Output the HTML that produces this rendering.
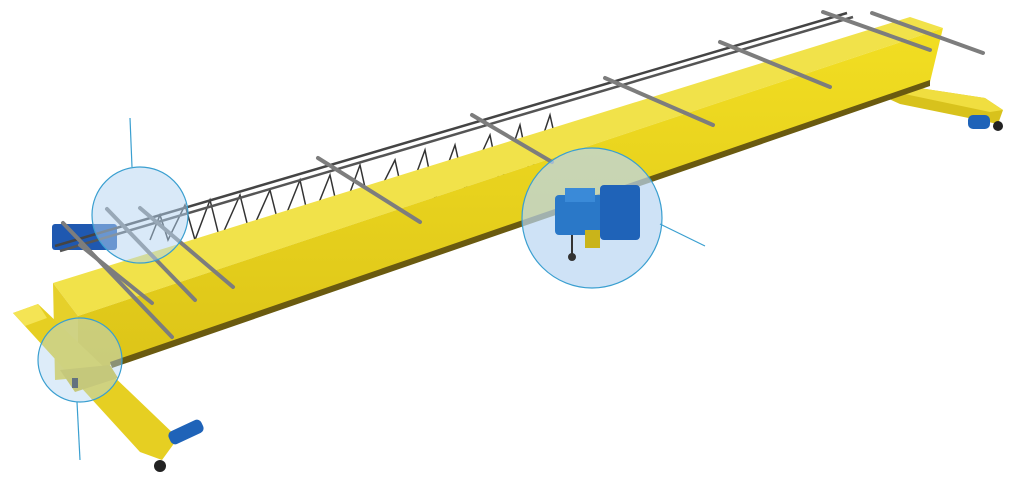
<!DOCTYPE html>
<html><head><style>html,body{margin:0;padding:0;background:#fff;width:1019px;height:479px;overflow:hidden}</style></head>
<body>
<svg width="1019" height="479" viewBox="0 0 1019 479" xmlns="http://www.w3.org/2000/svg">
<defs>
<linearGradient id="ff" x1="0" y1="0" x2="0" y2="1"><stop offset="0" stop-color="#f2de22"/><stop offset="1" stop-color="#dcc418"/></linearGradient>
</defs>
<!-- right end carriage -->
<polygon points="893,84 985,98 1003,110 998,124 900,104 880,95" fill="#d8c21c"/>
<polygon points="893,84 985,98 1003,110 990,112 895,92" fill="#f0de40"/>
<rect x="968" y="115" width="22" height="14" rx="5" fill="#1f63b8"/>
<circle cx="998" cy="126" r="5" fill="#222"/>
<!-- festoon -->
<polyline points="150,240 160,215 168,240 185,205 195,240 210,200 220,240 240,195 250,235 270,190 280,230 300,180 310,225 330,175 340,220 360,165 370,210 395,160 405,205 425,150 435,200 455,145 465,190 490,135 500,185 520,125 530,175 550,115 560,160" fill="none" stroke="#333" stroke-width="1.5"/>
<!-- girder top face -->
<polygon points="53,283 910,17 943,28 78,316" fill="#f1e24a"/>
<!-- front face -->
<polygon points="78,316 943,28 930,82 110,365 78,375" fill="url(#ff)"/>
<polygon points="110,362 930,80 930,86 112,368" fill="#6a5a10"/>
<!-- left end face -->
<polygon points="53,283 78,316 78,378 55,380" fill="#e6d02a"/>
<!-- left end carriage -->
<polygon points="13,313 38,304 178,438 162,460 140,452" fill="#e6cf22"/>
<polygon points="13,313 38,304 47,318 25,326" fill="#f4e454"/>
<polygon points="60,370 110,365 118,378 75,392" fill="#d4bd1a"/>
<rect x="72" y="378" width="6" height="10" fill="#222"/>
<rect x="168" y="425" width="36" height="14" rx="5" fill="#1f63b8" transform="rotate(-25 186 432)"/>
<circle cx="160" cy="466" r="6" fill="#222"/>
<!-- blue motor left -->
<rect x="52" y="224" width="65" height="26" rx="3" fill="#1f58b0"/>
<!-- rails -->
<line x1="55" y1="246" x2="847" y2="13" stroke="#444" stroke-width="2.5"/>
<line x1="60" y1="251" x2="853" y2="17" stroke="#555" stroke-width="2.5"/>
<!-- cross bars -->
<g stroke="#7d7d7d" stroke-width="4" stroke-linecap="round">
<line x1="63" y1="223" x2="172" y2="337"/>
<line x1="80" y1="245" x2="152" y2="303"/>
<line x1="107" y1="209" x2="195" y2="300"/>
<line x1="140" y1="208" x2="233" y2="287"/>
<line x1="318" y1="158" x2="420" y2="222"/>
<line x1="472" y1="115" x2="552" y2="162"/>
<line x1="605" y1="78" x2="713" y2="125"/>
<line x1="720" y1="42" x2="830" y2="87"/>
<line x1="823" y1="12" x2="930" y2="50"/>
<line x1="872" y1="13" x2="983" y2="53"/>
</g>
<!-- circles -->
<circle cx="140" cy="215" r="48" fill="rgba(180,212,242,0.5)" stroke="#3a9fd0" stroke-width="1.2"/>
<line x1="130" y1="118" x2="132" y2="167" stroke="#3a9fd0" stroke-width="1.2"/>
<circle cx="80" cy="360" r="42" fill="rgba(180,212,242,0.45)" stroke="#3a9fd0" stroke-width="1.2"/>
<line x1="77" y1="402" x2="80" y2="460" stroke="#3a9fd0" stroke-width="1.2"/>
<circle cx="592" cy="218" r="70" fill="rgba(185,214,242,0.7)" stroke="#3a9fd0" stroke-width="1.2"/>
<line x1="660" y1="224" x2="705" y2="246" stroke="#3a9fd0" stroke-width="1.2"/>
<!-- hoist -->
<rect x="555" y="195" width="70" height="40" rx="4" fill="#2a78c8"/>
<rect x="600" y="185" width="40" height="55" rx="4" fill="#1f63b8"/>
<rect x="565" y="188" width="30" height="14" fill="#3a8ad8"/>
<line x1="572" y1="235" x2="572" y2="255" stroke="#333" stroke-width="2"/>
<circle cx="572" cy="257" r="4" fill="#333"/>
<rect x="585" y="230" width="15" height="18" fill="#c9b41a"/>
</svg>
</body></html>
